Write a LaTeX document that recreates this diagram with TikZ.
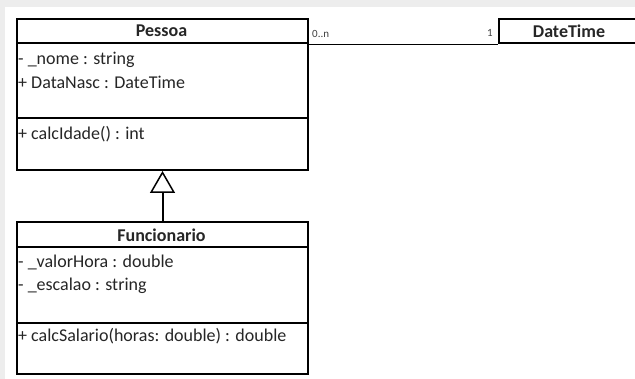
\documentclass[tikz,border=0pt]{standalone}
\usepackage{fontspec}
\setmainfont{Carlito}
\usetikzlibrary{arrows.meta}
\begin{document}
\begin{tikzpicture}[x=1pt,y=-1pt,
  classbox/.style={draw=black, line width=2pt, inner sep=0pt, anchor=north west},
  sepline/.style={draw=black, line width=2pt},
  title/.style={font=\fontsize{18}{20}\selectfont\bfseries, inner sep=0pt, text=black!85},
  member/.style={font=\fontsize{18}{20}\selectfont, inner sep=0pt, anchor=west, text=black!85},
  mult/.style={font=\fontsize{11}{12}\selectfont, inner sep=0pt, text=black!75},
  assoc/.style={draw=black, line width=0.9pt},
  gen/.style={draw=black, line width=2pt, -{Triangle[open, length=22pt, width=25pt, line width=1.5pt]}}]
\useasboundingbox (0,0) rectangle (635,379);
\fill[black!7] (0,0) rectangle (635,379);
\fill[white] (5,7) rectangle (635,379);
\begin{scope}
\clip (0,0) rectangle (635,379);
% Pessoa
\node[classbox, minimum width=291pt, minimum height=151pt] (pessoa) at (16,18) {};
\draw[sepline] (16,43) -- (307,43);
\draw[sepline] (16,118) -- (307,118);
\node[title] (pt) at (161.5,31) {Pessoa};
\node[member] (p1) at (18,60) {- \_nome : string};
\node[member] (p2) at (18,82) {+ DataNasc : DateTime};
\node[member] (p3) at (18,134) {+ calcIdade() : int};
% Funcionario
\node[classbox, minimum width=291pt, minimum height=152pt] (func) at (16,221) {};
\draw[sepline] (16,247) -- (307,247);
\draw[sepline] (16,323) -- (307,323);
\node[title] (ft) at (161.5,235) {Funcionario};
\node[member] (f1) at (18,262) {- \_valorHora : double};
\node[member] (f2) at (18,286) {- \_escalao : string};
\node[member] (f3) at (18,336) {+ calcSalario(horas: double) : double};
% DateTime
\node[classbox, minimum width=150pt, minimum height=24pt] (dt) at (498,18) {};
\node[title] (dtt) at (569,31) {DateTime};
% connectors
\draw[assoc] (pessoa.east |- dt.south) -- (dt.south west);
\node[mult, anchor=west] (m1) at (312,34) {0..n};
\node[mult, anchor=east] (m2) at (493,33) {1};
\draw[gen] (func.north) -- (pessoa.south);
\end{scope}
\end{tikzpicture}
\end{document}
